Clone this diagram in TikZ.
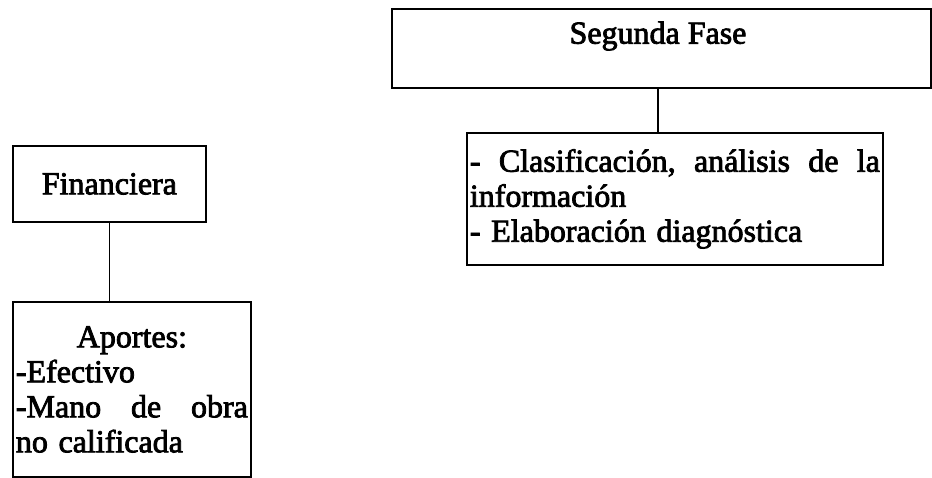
\documentclass[tikz,border=0pt]{standalone}
\usepackage{fontspec}
\setmainfont{Liberation Serif}[FakeBold=2.5]
\begin{document}
\begin{tikzpicture}[x=1pt,y=-1pt,
  box/.style={draw, line width=1.8pt, inner xsep=2pt, inner ysep=0pt, anchor=north west,
    font=\fontsize{32}{35}\selectfont},
  link/.style={line width=1.8pt}]
\useasboundingbox (0,0) rectangle (932,478);
\node[box, minimum width=539pt, minimum height=79pt] (seg) at (391,8) {};
\node[font=\fontsize{32}{35}\selectfont, inner sep=0pt] (segt) at (658,36) {Segunda Fase};
\node[box, minimum width=416pt, minimum height=132pt, text width=410pt, align=left] (cls) at (466,132)
  {\makebox[\linewidth][s]{-\hfill Clasificación,\hfill análisis\hfill de\hfill la}\\
   información\\
   - Elaboración diagnóstica};
\node[box, minimum width=193pt, minimum height=76pt, align=center] (fin) at (12,145) {Financiera};
\node[box, minimum width=238pt, minimum height=175pt, text width=232pt, align=left] (apo) at (12,301)
  {\makebox[\linewidth][c]{Aportes:}\\
   -Efectivo\\
   \makebox[\linewidth][s]{-Mano\hfill de\hfill obra}\\
   no calificada};
\draw[link] (seg.south -| segt.south) -- (segt.south |- cls.north);
\draw[link] (fin.south) -- (fin.south |- apo.north);
\end{tikzpicture}
\end{document}
